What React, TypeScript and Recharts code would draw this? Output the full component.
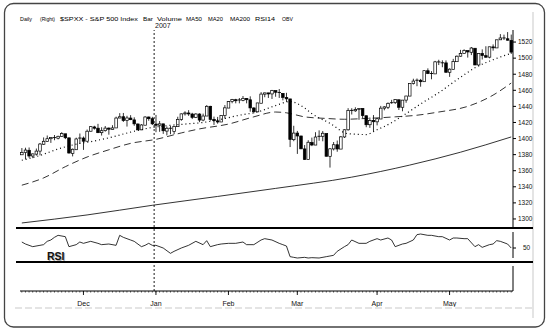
import React from "react";
import { ComposedChart, Bar, Line, XAxis, YAxis, ReferenceLine } from "recharts";

const FONT = '"Liberation Sans", Arial, sans-serif';

// trading days per month (Nov 2006 - May 2007)
const monthNames = ["Nov", "Dec", "Jan", "Feb", "Mar", "Apr", "May"];
const monthDays = [
  [7, 8, 9, 10, 13, 14, 15, 16, 17, 20, 21, 22, 24, 27, 28, 29, 30],
  [1, 4, 5, 6, 7, 8, 11, 12, 13, 14, 15, 18, 19, 20, 21, 22, 26, 27, 28, 29],
  [3, 4, 5, 8, 9, 10, 11, 12, 16, 17, 18, 19, 22, 23, 24, 25, 26, 29, 30, 31],
  [1, 2, 5, 6, 7, 8, 9, 12, 13, 14, 15, 16, 20, 21, 22, 23, 26, 27, 28],
  [1, 2, 5, 6, 7, 8, 9, 12, 13, 14, 15, 16, 19, 20, 21, 22, 23, 26, 27, 28, 29, 30],
  [2, 3, 4, 5, 9, 10, 11, 12, 13, 16, 17, 18, 19, 20, 23, 24, 25, 26, 27, 30],
  [1, 2, 3, 4, 7, 8, 9, 10, 11, 14, 15, 16, 17, 18, 21, 22, 23, 24],
];
const monthTickDates = ["Dec 1", "Jan 3", "Feb 1", "Mar 1", "Apr 2", "May 1"];
const monthTickLabels = ["Dec", "Jan", "Feb", "Mar", "Apr", "May"];
const yearMarkDate = "Jan 3";

const opens = [
  1379.8, 1382.5, 1385.4, 1378.3, 1380.6, 1384.4, 1392.9, 1396.5, 1399.8, 1401.2, 1400.4, 1402.7, 1405.9, 1400.9, 1381.6, 1386.1, 1399.5,
  1400.6, 1396.7, 1409.1, 1414.4, 1412.9, 1407.3, 1409.8, 1413.0, 1411.3, 1413.2, 1425.5, 1427.1, 1422.4, 1425.5, 1423.2, 1418.1, 1410.8, 1416.6, 1426.8, 1424.7,
  1418.0, 1416.6, 1418.3, 1409.3, 1412.8, 1408.7, 1414.8, 1423.8, 1430.7, 1431.8, 1430.5, 1426.4, 1430.5, 1423.0, 1428.0, 1440.1, 1423.9, 1422.0, 1420.6, 1428.6,
  1437.9, 1445.9, 1448.3, 1446.9, 1447.4, 1449.9, 1448.2, 1438.0, 1433.2, 1443.9, 1455.2, 1456.8, 1455.5, 1459.6, 1457.3, 1456.2, 1451.0, 1449.3, 1398.6,
  1406.8, 1403.2, 1387.1, 1374.1, 1395.0, 1391.9, 1401.9, 1402.8, 1406.2, 1377.9, 1387.1, 1392.3, 1386.9, 1402.0, 1410.9, 1435.0, 1434.5, 1436.1, 1437.5, 1428.4, 1417.2, 1422.5,
  1420.8, 1424.3, 1437.8, 1438.9, 1443.8, 1444.6, 1448.2, 1438.9, 1447.8, 1452.8, 1468.5, 1471.5, 1472.5, 1470.7, 1484.3, 1480.9, 1480.4, 1495.3, 1494.2, 1494.1,
  1482.4, 1486.1, 1495.6, 1502.4, 1505.6, 1509.4, 1507.3, 1512.3, 1491.5, 1505.8, 1503.1, 1501.2, 1514.0, 1512.7, 1522.8, 1525.1, 1524.1, 1522.1,
];
const highs = [
  1388.2, 1388.6, 1388.9, 1381.4, 1387.6, 1394.5, 1401.4, 1403.8, 1401.2, 1404.4, 1403.5, 1407.9, 1405.9, 1400.9, 1387.6, 1401.1, 1406.3,
  1402.5, 1411.2, 1415.3, 1415.9, 1418.3, 1414.1, 1415.6, 1413.8, 1416.6, 1427.2, 1431.6, 1431.8, 1428.3, 1429.1, 1426.4, 1418.8, 1417.9, 1427.7, 1427.3, 1427.0,
  1429.4, 1421.8, 1418.3, 1414.9, 1415.6, 1415.0, 1427.1, 1431.2, 1433.9, 1435.3, 1432.0, 1431.6, 1431.4, 1431.0, 1441.6, 1440.7, 1427.3, 1426.9, 1428.8, 1441.6,
  1446.6, 1449.3, 1449.4, 1450.4, 1452.9, 1450.4, 1452.5, 1439.1, 1444.4, 1457.7, 1457.0, 1456.8, 1460.5, 1459.6, 1461.6, 1456.2, 1456.9, 1449.3, 1415.9,
  1409.5, 1403.4, 1391.9, 1397.9, 1401.2, 1407.9, 1410.2, 1409.3, 1406.2, 1388.1, 1395.7, 1397.5, 1403.2, 1411.5, 1437.8, 1437.7, 1438.9, 1437.7, 1437.5, 1428.4, 1426.2, 1429.2,
  1425.5, 1440.6, 1440.2, 1444.9, 1448.1, 1448.7, 1448.4, 1448.0, 1453.1, 1468.6, 1474.4, 1474.7, 1474.2, 1484.7, 1487.3, 1483.8, 1496.6, 1498.0, 1497.3, 1497.2,
  1487.3, 1499.1, 1503.3, 1510.3, 1511.0, 1509.4, 1513.8, 1512.3, 1506.2, 1510.9, 1514.8, 1514.1, 1517.1, 1522.8, 1529.9, 1529.2, 1532.4, 1529.3,
];
const lows = [
  1379.8, 1374.2, 1376.1, 1375.6, 1378.8, 1379.1, 1392.1, 1396.5, 1394.6, 1397.9, 1399.0, 1402.3, 1399.3, 1381.4, 1377.8, 1386.1, 1393.8,
  1385.9, 1396.7, 1408.8, 1411.1, 1406.8, 1403.7, 1408.6, 1404.8, 1411.3, 1413.2, 1425.5, 1420.7, 1414.9, 1422.9, 1415.9, 1410.5, 1410.5, 1416.6, 1422.1, 1416.8,
  1407.9, 1408.4, 1405.8, 1403.9, 1405.4, 1405.4, 1414.8, 1422.1, 1428.6, 1428.2, 1424.2, 1425.5, 1420.4, 1421.5, 1428.0, 1422.3, 1416.9, 1418.5, 1420.6, 1424.8,
  1437.9, 1443.9, 1443.8, 1443.8, 1446.4, 1443.8, 1433.4, 1431.4, 1433.2, 1443.9, 1451.4, 1450.5, 1449.2, 1452.0, 1450.5, 1447.5, 1445.5, 1389.4, 1396.7,
  1380.9, 1386.9, 1373.4, 1374.1, 1390.6, 1391.9, 1397.3, 1396.6, 1377.7, 1363.9, 1385.2, 1383.6, 1386.9, 1400.7, 1409.8, 1429.9, 1433.2, 1423.3, 1425.5, 1414.1, 1413.3, 1408.9,
  1416.4, 1424.3, 1435.1, 1436.7, 1443.3, 1443.0, 1435.5, 1433.9, 1444.5, 1452.8, 1467.2, 1465.1, 1464.5, 1470.7, 1480.2, 1473.7, 1480.4, 1491.4, 1488.7, 1482.3,
  1476.7, 1486.1, 1495.6, 1501.8, 1505.6, 1500.7, 1503.8, 1491.4, 1491.5, 1498.3, 1500.4, 1499.8, 1509.3, 1512.7, 1522.7, 1522.6, 1521.9, 1505.2,
];
const closes = [
  1382.8, 1385.7, 1378.3, 1380.9, 1384.4, 1393.2, 1396.6, 1399.8, 1401.2, 1400.5, 1402.8, 1406.1, 1401.0, 1382.0, 1386.7, 1399.5, 1400.6,
  1396.7, 1409.1, 1414.8, 1412.9, 1407.3, 1409.8, 1413.0, 1411.6, 1413.2, 1425.5, 1427.1, 1422.5, 1425.6, 1423.5, 1418.3, 1410.8, 1416.9, 1426.8, 1424.7, 1418.3,
  1416.6, 1418.3, 1409.7, 1412.8, 1412.1, 1414.9, 1423.8, 1430.7, 1431.9, 1430.6, 1426.4, 1430.5, 1423.0, 1428.0, 1440.1, 1423.9, 1422.2, 1420.6, 1428.8, 1438.2,
  1445.9, 1448.4, 1447.0, 1448.0, 1450.0, 1448.3, 1438.1, 1433.4, 1444.3, 1455.3, 1456.8, 1455.5, 1459.7, 1457.6, 1456.4, 1451.2, 1449.4, 1399.0, 1406.8,
  1403.2, 1387.2, 1374.1, 1395.4, 1392.0, 1401.9, 1402.8, 1406.6, 1378.0, 1387.2, 1392.3, 1387.0, 1402.1, 1410.9, 1435.0, 1434.5, 1436.1, 1437.5, 1428.6, 1417.2, 1422.5, 1420.9,
  1424.6, 1437.8, 1439.4, 1443.8, 1444.6, 1448.4, 1438.9, 1447.8, 1452.9, 1468.5, 1471.5, 1472.5, 1470.7, 1484.4, 1480.9, 1480.4, 1495.4, 1494.3, 1494.1, 1482.4,
  1486.3, 1495.9, 1502.4, 1505.6, 1509.5, 1507.7, 1512.6, 1491.5, 1505.9, 1503.2, 1501.2, 1514.1, 1512.8, 1522.8, 1525.1, 1524.1, 1522.3, 1507.5,
];

// moving averages: [day index, value]
const ma20Points: [number, number][] = [
  [0, 1373], [5, 1379], [10, 1387], [15, 1393], [20, 1397], [25, 1402], [30, 1408], [35, 1413], [40, 1416], [45, 1418],
  [50, 1420], [55, 1424], [60, 1429], [65, 1433], [70, 1441], [74, 1446], [78, 1438], [80, 1431], [85, 1419], [90, 1406],
  [95, 1405], [98, 1411], [100, 1415], [105, 1428], [110, 1443], [115, 1457], [120, 1473], [125, 1488], [130, 1498], [135, 1506],
];
const ma50Points: [number, number][] = [
  [0, 1342], [6, 1351], [12, 1365], [18, 1377], [24, 1386], [30, 1394], [37, 1399], [44, 1407], [49, 1412], [57, 1418],
  [64, 1427], [70, 1433], [73, 1432], [78, 1427], [84, 1425], [89, 1424], [95, 1425], [103, 1427], [109, 1429], [115, 1433],
  [123, 1440], [130, 1454], [135, 1469],
];
const ma200Points: [number, number][] = [
  [0, 1295], [18, 1305], [36, 1317], [54, 1328], [70, 1338], [91, 1352], [107, 1367], [121, 1383], [135, 1402],
];
const rsiPoints: [number, number][] = [
  [0, 59], [1, 56], [3, 52], [5, 54], [6, 55], [7, 60], [8, 62], [9, 66], [10, 69], [12, 67], [13, 52], [15, 55], [16, 59],
  [17, 57], [19, 60], [21, 57], [22, 55], [24, 56], [26, 54], [27, 69], [28, 66], [30, 62], [31, 60], [33, 52], [34, 54],
  [35, 57], [36, 54], [37, 54], [39, 50], [41, 42], [42, 45], [44, 50], [46, 54], [48, 60], [50, 55], [51, 61], [52, 52],
  [54, 55], [55, 56], [57, 57], [59, 57], [61, 59], [62, 55], [64, 55], [66, 62], [67, 64], [69, 62], [71, 57], [72, 55],
  [73, 53], [74, 37], [75, 36], [76, 35], [78, 36], [79, 35], [80, 35.5], [82, 35], [84, 37], [85, 38], [86, 39], [87, 45],
  [89, 52], [90, 55], [91, 62], [93, 57], [95, 57], [96, 60], [98, 64], [99, 62], [101, 65], [102, 62], [103, 52], [105, 56],
  [106, 57], [108, 62], [109, 70], [110, 71], [112, 69], [113, 69], [115, 67], [116, 67], [118, 62], [119, 65], [120, 65],
  [122, 64], [123, 64], [125, 52], [126, 55], [127, 51], [129, 55], [130, 56], [131, 61], [132, 60], [134, 56], [135, 50],
];

const priceTicks = [1300, 1320, 1340, 1360, 1380, 1400, 1420, 1440, 1460, 1480, 1500, 1520];
const rsiTicks = [50];
const obvTicks = [1];

const titleWords = [
  { t: "Daily", x: 20, w: 12 },
  { t: "(Right)", x: 40, w: 15 },
  { t: "$SPXX - S&P 500 Index", x: 60, w: 78 },
  { t: "Bar", x: 143, w: 10 },
  { t: "Volume", x: 157, w: 25 },
  { t: "MA50", x: 186, w: 16 },
  { t: "MA20", x: 208, w: 15 },
  { t: "MA200", x: 230, w: 20 },
  { t: "RSI14", x: 255, w: 20 },
  { t: "OBV", x: 282, w: 11 },
];

const dates: string[] = [];
monthDays.forEach((days, m) => days.forEach((d) => dates.push(`${monthNames[m]} ${d}`)));

const toMap = (pts: [number, number][]) => new Map(pts.map(([i, v]) => [i, v]));
const m20 = toMap(ma20Points);
const m50 = toMap(ma50Points);
const m200 = toMap(ma200Points);
const rsiM = toMap(rsiPoints);

const table = dates.map((d, i) => ({
  d,
  open: opens[i],
  high: highs[i],
  low: lows[i],
  close: closes[i],
  range: [lows[i], highs[i]],
  ma20: m20.has(i) ? m20.get(i) : null,
  ma50: m50.has(i) ? m50.get(i) : null,
  ma200: m200.has(i) ? m200.get(i) : null,
  rsi: rsiM.has(i) ? rsiM.get(i) : null,
}));

const monthLabelOf: Record<string, string> = {};
monthTickDates.forEach((d, i) => (monthLabelOf[d] = monthTickLabels[i]));

function Candle(props: any) {
  const { x, y, width, height, payload } = props;
  if (x == null || y == null || !payload) return null;
  const { open, close, high, low } = payload;
  const top = Math.min(y, y + height);
  const h = Math.abs(height);
  const k = high > low ? h / (high - low) : 0;
  const py = (v: number) => top + (high - v) * k;
  const cx = x + width / 2;
  const up = close >= open;
  const bt = py(Math.max(open, close));
  const bb = py(Math.min(open, close));
  const bw = 2.6;
  return (
    <g>
      <line x1={cx} x2={cx} y1={top} y2={top + h} stroke="#000" strokeWidth={0.8} />
      {bb - bt < 0.9 ? (
        <line x1={cx - 1.7} x2={cx + 1.7} y1={bt} y2={bt} stroke="#000" strokeWidth={0.9} />
      ) : (
        <rect x={cx - bw / 2} y={bt} width={bw} height={bb - bt} fill={up ? "#fff" : "#000"} stroke="#000" strokeWidth={0.7} />
      )}
    </g>
  );
}

function XTick(props: any) {
  const { x, y, payload } = props;
  const lab = monthLabelOf[payload.value];
  return (
    <g>
      <line x1={x} x2={x} y1={y} y2={y + 1.6} stroke="#000" strokeWidth={0.6} />
      {lab ? (
        <g>
          <line x1={x} x2={x} y1={y} y2={y + 4} stroke="#000" strokeWidth={0.9} />
          <text x={x} y={y + 15} textAnchor="middle" fontSize={7} fontFamily={FONT} fill="#111">
            {lab}
          </text>
        </g>
      ) : null}
    </g>
  );
}

const abs = (top: number): React.CSSProperties => ({ position: "absolute", left: 0, top });

export default function App() {
  const tickStyle = { fontSize: 6.5, fill: "#111", fontFamily: FONT };
  return (
    <div style={{ position: "absolute", left: 0, top: 0, width: 550, height: 333, background: "#fff", fontFamily: FONT }}>
      <svg width={550} height={333} style={{ position: "absolute", left: 0, top: 0 }}>
        <rect x={4.5} y={3.5} width={540} height={323.5} rx={9} fill="none" stroke="#444" strokeWidth={1.3} />
        <line x1={533} x2={533} y1={12} y2={318} stroke="#bbb" strokeWidth={0.8} />
        {titleWords.map((w) => (
          <text key={w.t} x={w.x} y={21} fontSize={6.2} fontFamily={FONT} fill="#000" textLength={w.w} lengthAdjust="spacingAndGlyphs">
            {w.t}
          </text>
        ))}
        <text x={155} y={28} fontSize={7} fontFamily={FONT} fill="#111">2007</text>
        <line x1={16} x2={533} y1={228} y2={228} stroke="#000" strokeWidth={2} />
        <line x1={16} x2={533} y1={262} y2={262} stroke="#000" strokeWidth={2} />
        <text x={48} y={261} fontSize={10.5} fontWeight="bold" fontFamily={FONT} fill="#aaa">RSI</text>
        <text x={47} y={260} fontSize={10.5} fontWeight="bold" fontFamily={FONT} fill="#111">RSI</text>
        <line x1={15} x2={533} y1={308} y2={308} stroke="#bbb" strokeWidth={0.8} strokeDasharray="7 3" />
      </svg>

      <div style={abs(0)}>
        <ComposedChart width={550} height={228} data={table} margin={{ top: 30, right: 0, bottom: 1, left: 20 }}>
          <XAxis dataKey="d" hide scale="band" />
          <YAxis
            orientation="right"
            width={37}
            domain={[1290, 1535]}
            ticks={priceTicks}
            interval={0}
            tick={tickStyle}
            tickSize={3}
            tickMargin={2}
            axisLine={{ stroke: "#000" }}
            tickLine={{ stroke: "#000" }}
          />
          <Bar dataKey="range" shape={Candle} isAnimationActive={false} />
          <Line dataKey="ma200" type="monotone" stroke="#000" strokeWidth={0.8} dot={false} activeDot={false} connectNulls isAnimationActive={false} />
          <Line dataKey="ma50" type="monotone" stroke="#000" strokeWidth={0.8} strokeDasharray="7 4" dot={false} activeDot={false} connectNulls isAnimationActive={false} />
          <Line dataKey="ma20" type="monotone" stroke="#000" strokeWidth={1.2} strokeDasharray="1 3" dot={false} activeDot={false} connectNulls isAnimationActive={false} />
        </ComposedChart>
      </div>

      <div style={abs(229)}>
        <ComposedChart width={550} height={33} data={table} margin={{ top: 3, right: 0, bottom: 4, left: 20 }}>
          <XAxis dataKey="d" hide scale="band" />
          <YAxis
            orientation="right"
            width={37}
            domain={[35, 74]}
            ticks={rsiTicks}
            interval={0}
            tick={tickStyle}
            tickSize={3}
            tickMargin={7}
            axisLine={{ stroke: "#000" }}
            tickLine={{ stroke: "#000" }}
          />
          <Line dataKey="rsi" type="linear" stroke="#000" strokeWidth={0.8} dot={false} activeDot={false} connectNulls isAnimationActive={false} />
        </ComposedChart>
      </div>

      <div style={abs(262)}>
        <ComposedChart width={550} height={45} data={table} margin={{ top: 4, right: 0, bottom: 0, left: 20 }}>
          <XAxis
            dataKey="d"
            scale="band"
            height={16}
            interval={0}
            tickSize={0}
            tickMargin={0}
            tickLine={false}
            axisLine={{ stroke: "#000" }}
            tick={<XTick />}
          />
          <YAxis yAxisId="l" orientation="left" width={0} domain={[0, 1]} ticks={[0, 0.25, 0.5, 0.75, 1]} tickSize={2} tick={false} axisLine={{ stroke: "#000" }} tickLine={{ stroke: "#000" }} />
          <YAxis
            yAxisId="r"
            orientation="right"
            width={37}
            domain={[0, 1]}
            ticks={obvTicks}
            interval={0}
            tick={tickStyle}
            tickSize={3}
            tickMargin={12}
            axisLine={{ stroke: "#000" }}
            tickLine={{ stroke: "#000" }}
          />
          <Line yAxisId="r" dataKey="none" stroke="none" dot={false} activeDot={false} isAnimationActive={false} />
        </ComposedChart>
      </div>

      <div style={{ ...abs(0), pointerEvents: "none" }}>
        <ComposedChart width={550} height={292} data={table} margin={{ top: 30, right: 37, bottom: 1, left: 20 }}>
          <XAxis dataKey="d" hide scale="band" />
          <YAxis hide domain={[1290, 1535]} />
          <Line dataKey="close" stroke="none" dot={false} activeDot={false} isAnimationActive={false} />
          <ReferenceLine x={yearMarkDate} position="start" stroke="#000" strokeWidth={0.9} strokeDasharray="2 2" />
        </ComposedChart>
      </div>
    </div>
  );
}
